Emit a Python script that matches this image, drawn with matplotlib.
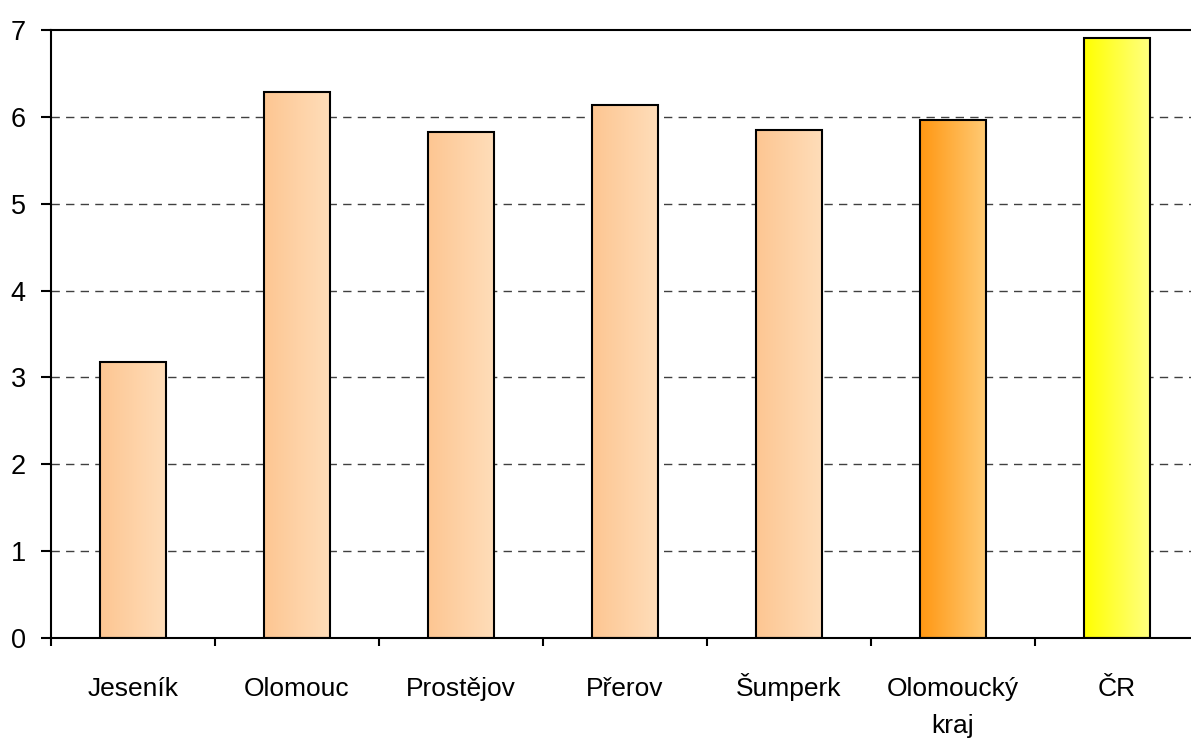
import numpy as np
import matplotlib
matplotlib.use("Agg")
import matplotlib.pyplot as plt
from matplotlib.colors import LinearSegmentedColormap
from matplotlib.transforms import blended_transform_factory

plt.rcParams["font.family"] = ["Liberation Sans", "DejaVu Sans"]

# ---------------------------------------------------------------------------
# Data
# ---------------------------------------------------------------------------
categories = ["Jeseník", "Olomouc", "Prostějov", "Přerov", "Šumperk",
              "Olomoucký\nkraj", "ČR"]
values     = [3.18, 6.29, 5.83, 6.14, 5.85, 5.96, 6.91]
y_ticks    = [0, 1, 2, 3, 4, 5, 6, 7]

# gradient (left -> right) per bar
grad_colors = [("#FDC692", "#FFDDB9")] * 5 + [("#FF9712", "#FFCA74"),
                                               ("#FFFF00", "#FFFF80")]

# ---------------------------------------------------------------------------
# Plot
# ---------------------------------------------------------------------------
W, H = 1191, 745
AX_H = 638 - 30
fig = plt.figure(figsize=(W / 100, H / 100), dpi=100)
ax = fig.add_axes([51 / W, (H - 638) / H, (1199 - 51) / W, AX_H / H])

x = np.arange(len(categories))
bars = ax.bar(x, values, width=0.40, color="none", edgecolor="black",
              linewidth=1.5, zorder=3)

grad = np.linspace(0, 1, 256).reshape(1, -1)
for bar, (c0, c1) in zip(bars, grad_colors):
    cmap = LinearSegmentedColormap.from_list("g", [c0, c1])
    bx, by = bar.get_x(), bar.get_y()
    bw, bh = bar.get_width(), bar.get_height()
    im = ax.imshow(grad, cmap=cmap, aspect="auto",
                   extent=[bx, bx + bw, by, by + bh], zorder=2,
                   interpolation="bilinear")
    im.set_clip_path(bar)

ax.set_xlim(-0.5, len(categories) - 0.5)
ax.set_ylim(0, 7)

ax.set_yticks(y_ticks)
ax.set_yticklabels([str(t) for t in y_ticks], fontsize=19.5)
ax.tick_params(axis="y", direction="out", length=7.2, width=1.5, pad=11)

# category labels centred below, ticks between categories
ax.set_xticks([])
trans = blended_transform_factory(ax.transData, ax.transAxes)
for xi, lab in zip(x, categories):
    for k, line in enumerate(lab.split("\n")):
        ax.text(xi, -(58 + 37 * k) / AX_H, line, transform=trans,
                ha="center", va="baseline", fontsize=19)
ax.set_xticks(np.arange(len(categories) + 1) - 0.5, minor=True)
ax.tick_params(axis="x", which="minor", direction="out", length=6, width=1.5)

for yv in y_ticks[1:-1]:
    ax.axhline(yv, color="#404040", linestyle=(0, (6, 4.5)), linewidth=1.0,
               zorder=1)

ax.spines["right"].set_visible(False)
for side in ["left", "bottom", "top"]:
    ax.spines[side].set_linewidth(1.5)

fig.savefig("out.png", dpi=100)
